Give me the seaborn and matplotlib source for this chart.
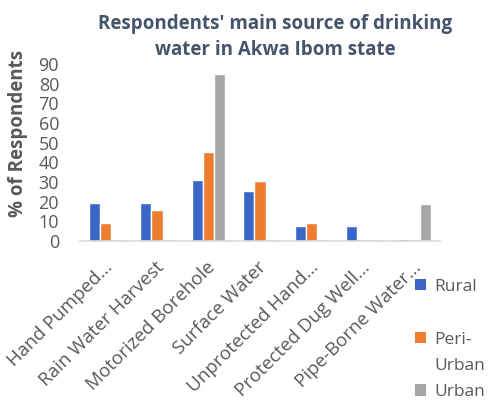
import matplotlib
matplotlib.use("Agg")
import matplotlib.pyplot as plt
import matplotlib.transforms as mtransforms
import seaborn as sns
import pandas as pd
from matplotlib.patches import Patch

# Water source categories (long labels are shortened with an ellipsis)
sources = [
    "Hand Pumped...",
    "Rain Water Harvest",
    "Motorized Borehole",
    "Surface Water",
    "Unprotected Hand...",
    "Protected Dug Well...",
    "Pipe-Borne Water...",
]
rural = [19.5, 19.5, 31, 25.5, 7.7, 7.7, 0.8]
peri_urban = [9, 16, 45, 30.5, 9, 0.8, 0.8]
urban = [0.8, 0.8, 85, 0.8, 0.8, 0.8, 18.7]
settlements = ["Rural", "Peri-Urban", "Urban"]
yticks = list(range(0, 100, 10))

df = pd.DataFrame({
    "source": sources * 3,
    "settlement": [s for s in settlements for _ in sources],
    "pct": rural + peri_urban + urban,
})

sns.set_theme(style="white")
plt.rcParams["font.family"] = ["Open Sans", "DejaVu Sans"]

palette = {"Rural": "#3A66C8", "Peri-Urban": "#EF7D2F", "Urban": "#A6A6A6"}

fig = plt.figure(figsize=(4.9, 4.0), dpi=100)
ax = fig.add_axes([0.163, 0.3975, 0.735, 0.4425])

sns.barplot(data=df, x="source", y="pct", hue="settlement", order=sources,
            hue_order=settlements, palette=palette, width=0.65,
            saturation=1, legend=False, ax=ax)

ax.set_ylim(0, 90)
ax.set_xlim(-0.5, len(sources) - 0.5)
ax.set_yticks(yticks)
ax.set_yticklabels([str(t) for t in yticks], fontsize=13, color="#595959")
ax.tick_params(axis="y", length=0, pad=15)
ax.tick_params(axis="x", length=0, pad=17)
ax.set_xticks(range(len(sources)))
ax.set_xticklabels(sources, rotation=45, ha="right", va="center",
                   rotation_mode="anchor", fontsize=13.5, color="#595959")
shift = mtransforms.ScaledTranslation(4 / 100, 0, fig.dpi_scale_trans)
for lab in ax.get_xticklabels():
    lab.set_transform(lab.get_transform() + shift)
ax.set_xlabel("")
ax.set_ylabel("% of Respondents", fontsize=13.5, fontweight="bold",
              color="#595959")
ax.yaxis.set_label_coords(-0.145, 0.605)

for side in ["top", "right", "left"]:
    ax.spines[side].set_visible(False)
ax.spines["bottom"].set_color("#D9D9D9")
ax.spines["bottom"].set_linewidth(1.2)

fig.text(0.561, 0.907, "Respondents' main source of drinking\nwater in Akwa Ibom state",
         ha="center", va="center", fontsize=13.5, fontweight="bold",
         color="#44546A", linespacing=1.4)

# Legend rows: the "Peri-Urban" entry wraps onto a second line, with an
# empty row above it to keep the entries spread down the right margin.
blank = Patch(facecolor="none", edgecolor="none")
handles = [Patch(facecolor=palette["Rural"], edgecolor="none"), blank,
           Patch(facecolor=palette["Peri-Urban"], edgecolor="none"), blank,
           Patch(facecolor=palette["Urban"], edgecolor="none")]
labels = ["Rural", " ", "Peri-", "Urban", "Urban"]
fig.legend(handles, labels, loc="upper left",
           bbox_to_anchor=(0.829, 0.325), frameon=False, fontsize=12.5,
           labelcolor="#595959", handlelength=0.65, handleheight=0.65,
           handletextpad=0.45, labelspacing=0.6, borderpad=0)

fig.savefig("out.png", dpi=100)
